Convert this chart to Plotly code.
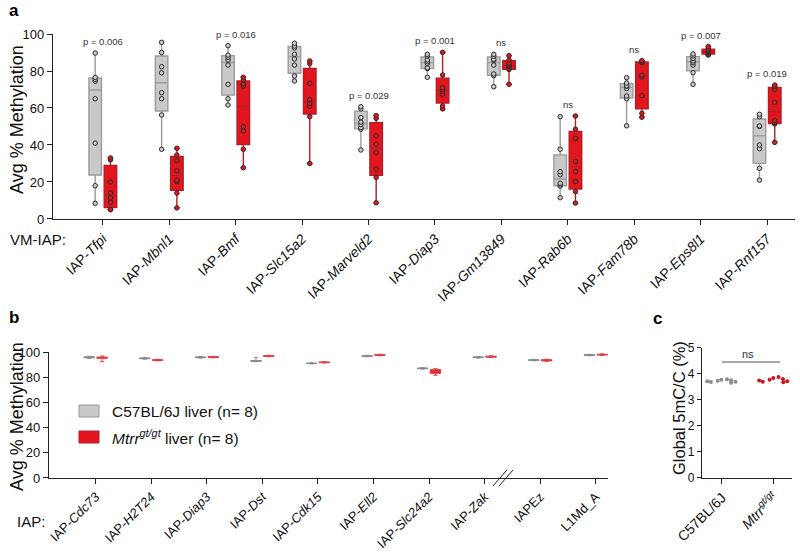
import numpy as np
import plotly.graph_objects as go

FONT = "Arial, Liberation Sans, sans-serif"
GRAY_FILL, GRAY_LINE = "#c9c9c9", "#9c9c9c"
RED_FILL, RED_LINE = "#e2161c", "#b01e2a"

# --- panel a: VM-IAP methylation, 8 mice per group ---
a_genes = ["Tfpi", "Mbnl1", "Bmf", "Slc15a2", "Marveld2", "Diap3",
           "Gm13849", "Rab6b", "Fam78b", "Eps8l1", "Rnf157"]
a_pvals = ["p = 0.006", "p < 0.0001", "p = 0.016", "p = 0.009", "p = 0.029",
           "p = 0.001", "ns", "ns", "ns", "p = 0.007", "p = 0.019"]
a_wt = [
    [89.7, 76.5, 75.5, 74.5, 65, 41, 18, 8.5],
    [95.5, 90, 82.3, 79, 68.3, 65, 56.2, 37.7],
    [93.7, 88.6, 87.4, 86, 83.2, 72.8, 65, 61.6],
    [95, 93.5, 92.5, 89, 86.5, 83.2, 77.3, 74.6],
    [60.7, 59.5, 54.8, 52.4, 51, 49.4, 48.5, 37.3],
    [89, 88.1, 86, 85, 84, 81.7, 81.3, 76.6],
    [89, 88, 86.3, 85.8, 83.2, 78.4, 77.5, 71.5],
    [55.3, 37.7, 25.6, 24, 19.3, 18.4, 17.8, 11.5],
    [76.4, 73.5, 72, 71.8, 70.5, 66.5, 65, 50.4],
    [89.2, 88.1, 86.8, 85.5, 84.5, 83.2, 79.1, 72.8],
    [56.6, 55.3, 50.3, 50, 40, 38, 27.4, 21],
]
a_mt = [
    [33, 32, 20, 14, 11.4, 9, 5.2, 5],
    [38.2, 34.6, 31.5, 26.1, 21, 20.2, 14, 6],
    [76.6, 75.1, 73, 71.9, 49.9, 47.6, 37.7, 27.7],
    [85.4, 84, 73.3, 64.5, 62.5, 61, 55.3, 30],
    [55.9, 54.4, 45, 40.4, 35.9, 27, 22.5, 8.8],
    [90.1, 77.8, 71, 70, 69, 67.4, 61.1, 59.5],
    [88.3, 86, 84.2, 83.3, 82.5, 81.5, 80.8, 72.8],
    [55.7, 48.5, 43.6, 31, 25.6, 20.2, 14.8, 8.6],
    [85.6, 85, 84.5, 77.8, 76.8, 66.7, 57.1, 55],
    [93.2, 92, 91.2, 90.6, 90.2, 89.5, 89, 88.6],
    [72.4, 71.5, 70, 63, 53.1, 52.1, 51.4, 41.4],
]

# --- panel b: control IAPs (box summaries) ---
b_genes = ["Cdc73", "H2T24", "Diap3", "Dst", "Cdk15", "Ell2", "Slc24a2", "Zak", "IAPEz", "L1Md_A"]
b_wt_lo = [95.0, 94.3, 95.2, 92.3, 90.6, 96.2, 86.4, 95.2, 93.0, 97.0]
b_wt_q1 = [95.4, 94.7, 95.5, 92.6, 90.8, 96.5, 86.7, 95.5, 93.3, 97.3]
b_wt_med = [95.8, 95.0, 95.8, 92.9, 91.0, 96.8, 87.0, 95.8, 93.6, 97.6]
b_wt_q3 = [96.2, 95.3, 96.1, 93.3, 91.2, 97.1, 87.3, 96.1, 93.9, 97.9]
b_wt_hi = [96.6, 95.7, 96.4, 95.8, 91.4, 97.4, 87.6, 96.4, 94.2, 98.2]
b_mt_lo = [92.3, 93.0, 95.4, 96.2, 91.3, 97.0, 81.5, 95.6, 92.6, 97.3]
b_mt_q1 = [95.0, 93.3, 95.7, 96.5, 91.5, 97.3, 83.1, 95.9, 92.9, 97.6]
b_mt_med = [95.5, 93.6, 96.0, 96.8, 91.8, 97.6, 84.7, 96.3, 93.4, 97.9]
b_mt_q3 = [96.0, 93.9, 96.3, 97.1, 92.1, 97.9, 86.0, 96.7, 93.9, 98.2]
b_mt_hi = [96.8, 94.2, 96.6, 97.4, 92.3, 98.2, 86.8, 97.0, 94.3, 98.5]

# --- panel c: global 5mC/C ---
c_groups = ["C57BL/6J", "Mtrr"]
c_wt = [3.66, 3.70, 3.72, 3.74, 3.76, 3.78, 3.80, 3.69]
c_mt = [3.68, 3.72, 3.75, 3.78, 3.81, 3.85, 3.88, 3.70]


def prism_stats(groups):
    # quartiles the Prism way ((n+1)p), whiskers min to max
    arr = [np.asarray(g, float) for g in groups]
    q = lambda p: [float(np.quantile(g, p, method="weibull")) for g in arr]
    return dict(q1=q(0.25), median=q(0.5), q3=q(0.75),
                lowerfence=[float(g.min()) for g in arr],
                upperfence=[float(g.max()) for g in arr])


fig = go.Figure()

for name, data, fill, line, grp, cap in [("C57BL/6J liver", a_wt, GRAY_FILL, GRAY_LINE, "wt", 0),
                                          ("Mtrr liver", a_mt, RED_FILL, RED_LINE, "mt", 0.45)]:
    fig.add_trace(go.Box(x=a_genes, **prism_stats(data), boxpoints=False,
                         fillcolor=fill, line=dict(color=line, width=1.4),
                         whiskerwidth=cap, offsetgroup=grp, showlegend=False,
                         xaxis="x", yaxis="y"))
    xs = [g for g, vals in zip(a_genes, data) for _ in vals]
    ys = [v for vals in data for v in vals]
    fig.add_trace(go.Box(x=xs, y=ys, boxpoints="all", jitter=0, pointpos=0,
                         fillcolor="rgba(0,0,0,0)", line=dict(width=0, color="rgba(0,0,0,0)"),
                         marker=dict(size=4.5, color=fill, line=dict(color="#2b2b2b", width=1)),
                         offsetgroup=grp, showlegend=False, xaxis="x", yaxis="y"))

for lo, q1, med, q3, hi, fill, line, grp in [
        (b_wt_lo, b_wt_q1, b_wt_med, b_wt_q3, b_wt_hi, GRAY_FILL, "#8a8a8a", "wt"),
        (b_mt_lo, b_mt_q1, b_mt_med, b_mt_q3, b_mt_hi, RED_FILL, "#e0404a", "mt")]:
    fig.add_trace(go.Box(x=b_genes, q1=q1, median=med, q3=q3, lowerfence=lo, upperfence=hi,
                         boxpoints=False, fillcolor=fill, line=dict(color=line, width=1),
                         whiskerwidth=0.4, offsetgroup=grp, showlegend=False,
                         xaxis="x2", yaxis="y2"))

for grp, vals, col in [(c_groups[0], c_wt, "#8c8c8c"), (c_groups[1], c_mt, "#d0101a")]:
    fig.add_trace(go.Box(x=[grp] * len(vals), y=vals, boxpoints="all", jitter=1, pointpos=0,
                         width=0.7, fillcolor="rgba(0,0,0,0)",
                         line=dict(width=0, color="rgba(0,0,0,0)"),
                         marker=dict(size=4, color=col), offsetgroup="c", showlegend=False,
                         xaxis="x3", yaxis="y3"))

axis_style = dict(showline=True, linecolor="#222", linewidth=1.3, ticks="outside",
                  ticklen=5, tickwidth=1.3, tickcolor="#222", showgrid=False, zeroline=False,
                  automargin=False, tickfont=dict(family=FONT, size=13, color="#111"))

fig.update_layout(
    template="none",
    width=800, height=552, margin=dict(l=0, r=0, t=0, b=0, pad=0),
    paper_bgcolor="white", plot_bgcolor="white", showlegend=False,
    font=dict(family=FONT, color="#111"),
    boxmode="group", boxgap=0.54, boxgroupgap=0.18,
    xaxis=dict(axis_style, domain=[0.06625, 0.99375], anchor="y", type="category",
               range=[-0.75, 10.42], tickangle=-45,
               tickvals=a_genes, ticktext=[f"IAP-<i>{g}</i>" for g in a_genes],
               tickfont=dict(family=FONT, size=14, color="#111")),
    yaxis=dict(axis_style, domain=[0.6033, 0.9384], anchor="x", range=[0, 100],
               tickvals=[0, 20, 40, 60, 80, 100]),
    xaxis2=dict(axis_style, domain=[0.06125, 0.76], anchor="y2", type="category",
                range=[-0.84, 9.22], tickangle=-45, tickvals=b_genes,
                ticktext=[g if g in ("IAPEz", "L1Md_A") else f"IAP-<i>{g}</i>" for g in b_genes]),
    yaxis2=dict(axis_style, domain=[0.1341, 0.3623], anchor="x2", range=[0, 100],
                tickvals=[0, 20, 40, 60, 80, 100]),
    xaxis3=dict(axis_style, domain=[0.8775, 0.99], anchor="y3", type="category",
                range=[-0.385, 1.35], tickangle=-45, tickvals=c_groups,
                ticktext=["C57BL/6J", "<i>Mtrr</i><sup><i>gt/gt</i></sup>"],
                tickfont=dict(family=FONT, size=14, color="#111")),
    yaxis3=dict(axis_style, domain=[0.1341, 0.3696], anchor="x3", range=[0, 5],
                tickvals=[0, 1, 2, 3, 4, 5], ticklen=4,
                tickfont=dict(family=FONT, size=12, color="#111")),
)

ann = []
# p-values sit a fixed step above the tallest point of each pair
for g, p, w, m in zip(a_genes, a_pvals, a_wt, a_mt):
    ann.append(dict(x=g, y=max(w + m) + 6.2, xref="x", yref="y", text=p, showarrow=False,
                    font=dict(size=9.5, color="#333")))
for txt, x, y in [("<b>a</b>", 7, 11), ("<b>b</b>", 7, 317), ("<b>c</b>", 651, 318)]:
    ann.append(dict(x=x / 800, y=1 - y / 552, xref="paper", yref="paper", text=txt,
                    xanchor="left", yanchor="middle", showarrow=False, font=dict(size=17, color="#000")))
for txt, x, y, size in [("Avg % Methylation", 17, 120, 18), ("Avg % Methylation", 17, 417, 18),
                        ("Global 5mC/C (%)", 679, 408, 16.5)]:
    ann.append(dict(x=x / 800, y=1 - y / 552, xref="paper", yref="paper", text=txt, textangle=-90,
                    xanchor="center", yanchor="middle", showarrow=False, font=dict(size=size)))
ann.append(dict(x=8 / 800, y=1 - 239 / 552, xref="paper", yref="paper", text="VM-IAP:",
                xanchor="left", yanchor="middle", showarrow=False, font=dict(size=15)))
ann.append(dict(x=15 / 800, y=1 - 521 / 552, xref="paper", yref="paper", text="IAP:",
                xanchor="left", yanchor="middle", showarrow=False, font=dict(size=15)))
# legend drawn by hand (wide swatches like the original)
ann.append(dict(x=110 / 800, y=1 - 411 / 552, xref="paper", yref="paper", text="C57BL/6J liver (n= 8)",
                xanchor="left", yanchor="middle", showarrow=False, font=dict(size=15.5)))
ann.append(dict(x=110 / 800, y=1 - 437 / 552, xref="paper", yref="paper",
                text="<i>Mtrr</i><sup><i>gt/gt</i></sup> liver (n= 8)",
                xanchor="left", yanchor="middle", showarrow=False, font=dict(size=15.5)))
ann.append(dict(x=0.5, y=4.75, xref="x3", yref="y3", text="ns", showarrow=False,
                font=dict(size=11, color="#333")))
fig.update_layout(annotations=ann)

shapes = [
    dict(type="rect", xref="paper", yref="paper", x0=79 / 800, x1=99 / 800,
         y0=1 - 417 / 552, y1=1 - 405 / 552, fillcolor=GRAY_FILL, line=dict(color="#999", width=1)),
    dict(type="rect", xref="paper", yref="paper", x0=79 / 800, x1=99 / 800,
         y0=1 - 443 / 552, y1=1 - 431 / 552, fillcolor=RED_FILL, line=dict(color=RED_LINE, width=1)),
    dict(type="line", xref="x3", yref="y3", x0=0, x1=1.12, y0=4.46, y1=4.46,
         line=dict(color="#555", width=1.2)),
]
# axis break marks between Zak and IAPEz
for dx in (0, 0.11):
    shapes.append(dict(type="line", xref="x2", yref="paper", x0=7.15 + dx, x1=7.4 + dx,
                       y0=1 - 486 / 552, y1=1 - 470 / 552, line=dict(color="#222", width=1)))
fig.update_layout(shapes=shapes)

# the page body has a default margin; drop it so the figure sits at the window corner
fig.write_html("out.html", config={"displayModeBar": False},
               post_script="document.body.style.margin='0';")
